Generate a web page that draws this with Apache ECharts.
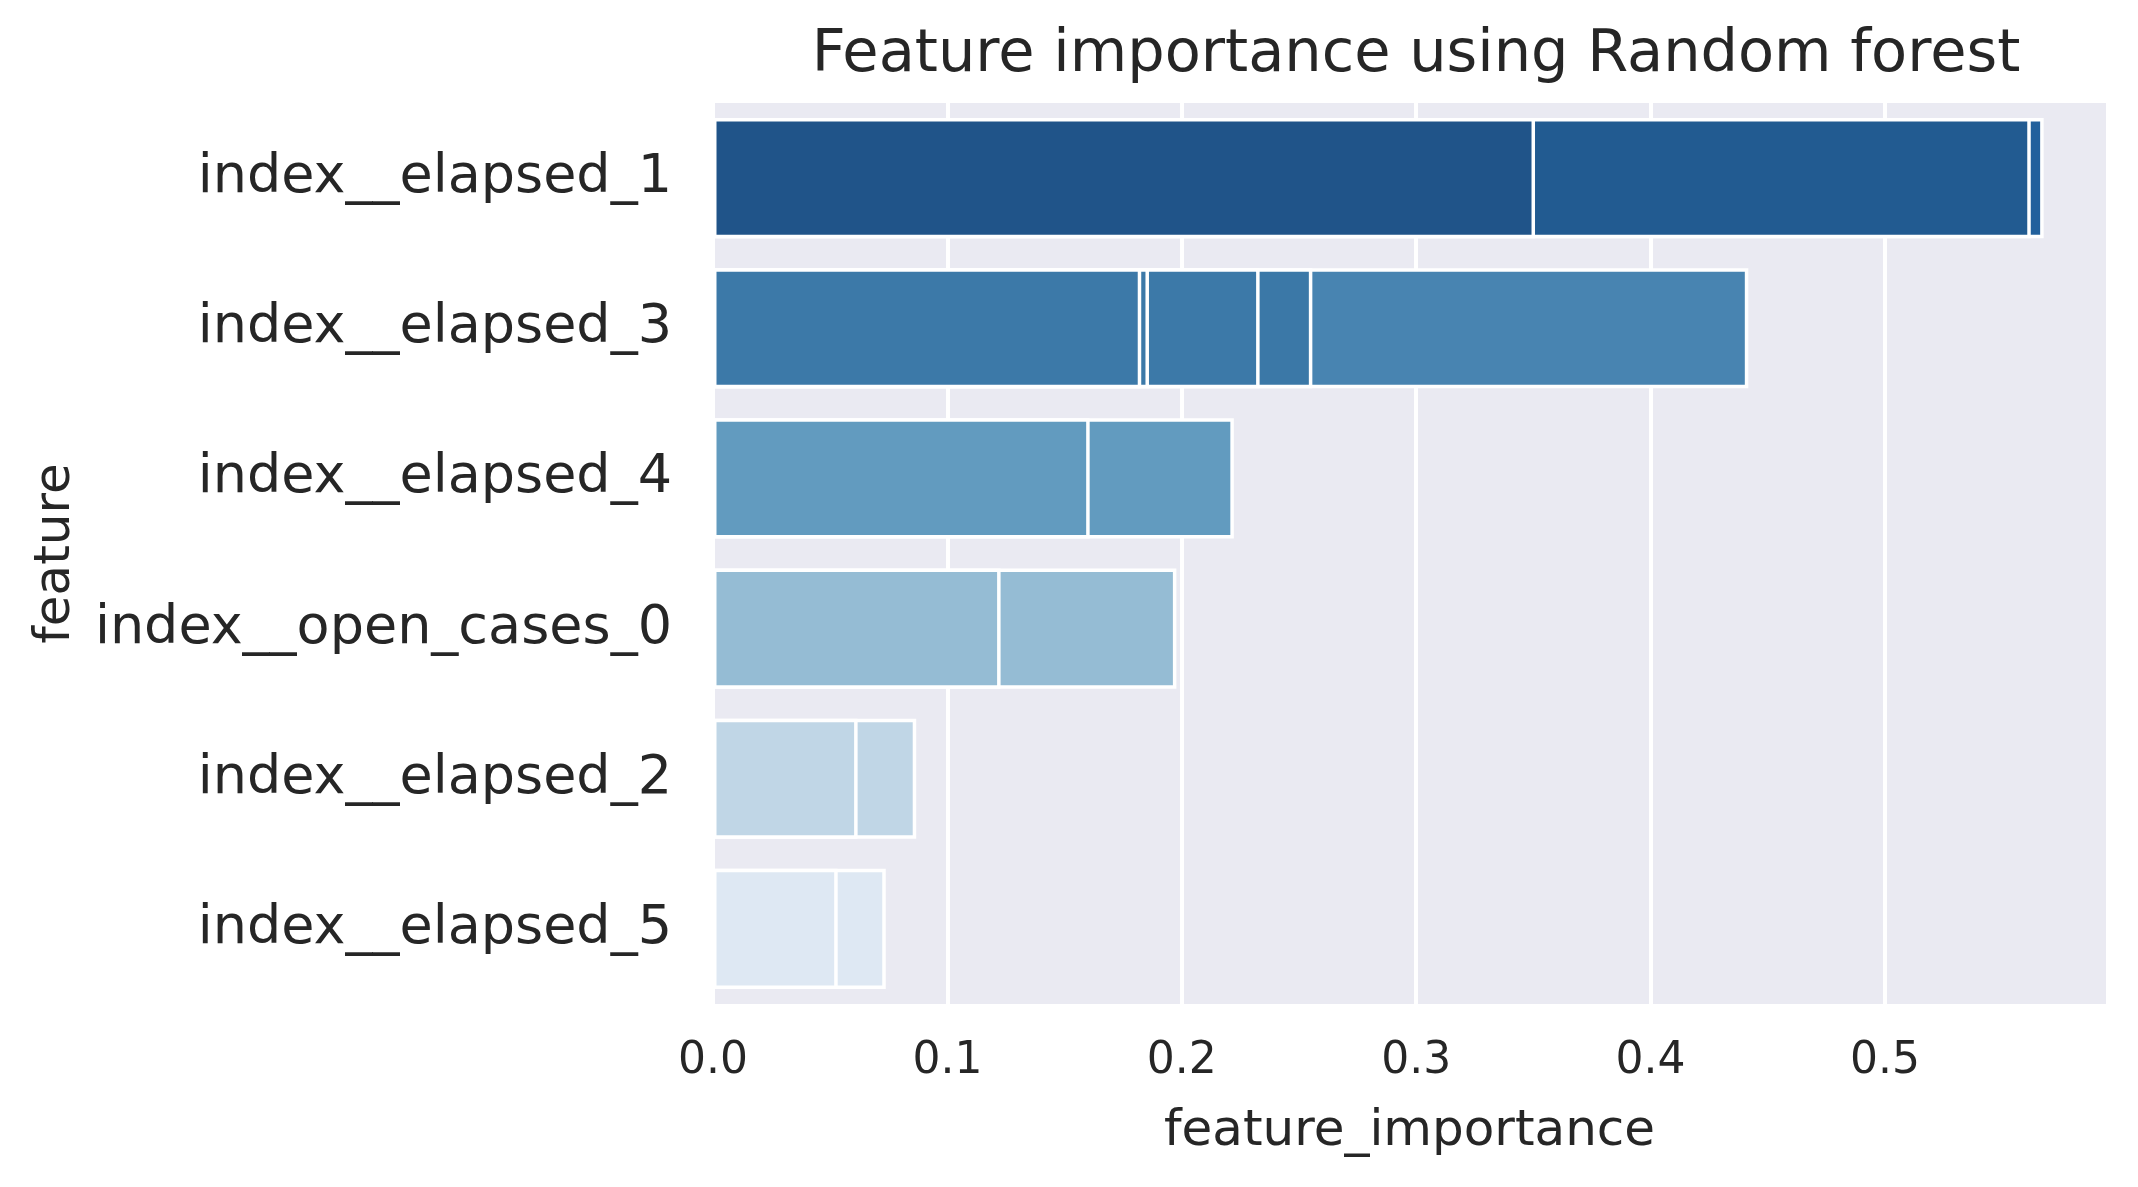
<!DOCTYPE html>
<html>
<head>
    <meta charset="utf-8">
    <title>Feature importance</title>
    <script src="https://cdn.jsdelivr.net/npm/echarts@6/dist/echarts.min.js"></script>
    <style>
        html, body { margin: 0; padding: 0; background: #fff; }
        #main { width: 2138px; height: 1187px; }
    </style>
</head>
<body>
<div id="main"></div>

<script type="text/javascript">
    // features, top to bottom
    var features = ['index__elapsed_1', 'index__elapsed_3', 'index__elapsed_4',
        'index__open_cases_0', 'index__elapsed_2', 'index__elapsed_5'];

    // overlapping bars per feature, back (longest) to front (shortest)
    var layer1 = [0.5677, 0.4417, 0.2222, 0.1977, 0.0867, 0.0737];
    var layer2 = [0.5622, 0.2557, 0.1607, 0.1227, 0.0617, 0.0532];
    var layer3 = [0.3507, 0.2332, null, null, null, null];
    var layer4 = [null, 0.1860, null, null, null, null];
    var layer5 = [null, 0.1827, null, null, null, null];

    var layers = [layer1, layer2, layer3, layer4, layer5];

    // bar colours, same layout as the layers
    var colors = [
        ['#22609c', '#4884b1', '#629bbf', '#95bcd4', '#c0d6e6', '#dee8f3'],
        ['#225b91', '#3b78a7', '#629bbf', '#95bcd4', '#c0d6e6', '#dee8f3'],
        ['#205489', '#3c79a8', null, null, null, null],
        [null, '#3c79a8', null, null, null, null],
        [null, '#3c79a8', null, null, null, null]
    ];

    var font = 'DejaVu Sans';
    var txt = '#262626';

    var series = layers.map(function (vals, k) {
        return {
            type: 'bar',
            barWidth: '80%',
            barGap: '-100%',
            z: 2 + k,
            data: vals.map(function (v, i) {
                return {
                    value: v,
                    itemStyle: { color: colors[k][i] }
                };
            }),
            itemStyle: { borderColor: '#ffffff', borderWidth: 3.5 },
            emphasis: { disabled: true }
        };
    });

    var myChart = echarts.init(document.getElementById('main'));
    myChart.setOption({
        animation: false,
        title: {
            text: 'Feature importance using Random forest',
            left: 1411,
            textAlign: 'center',
            top: 21,
            textStyle: { fontFamily: font, fontSize: 59, fontWeight: 'normal', color: txt }
        },
        grid: {
            left: 713,
            right: 32,
            top: 103,
            bottom: 183,
            show: true,
            backgroundColor: '#eaeaf2',
            borderWidth: 0
        },
        xAxis: {
            type: 'value',
            min: 0,
            max: 0.5943,
            interval: 0.1,
            name: 'feature_importance',
            nameLocation: 'middle',
            nameGap: 103,
            nameTextStyle: { fontFamily: font, fontSize: 50, color: txt },
            axisLine: { show: false },
            axisTick: { show: false },
            axisLabel: {
                fontFamily: font, fontSize: 44, color: txt, margin: 36,
                showMaxLabel: false,
                formatter: function (v) { return v.toFixed(1); }
            },
            splitLine: {
                show: true,
                showMaxLine: false,
                lineStyle: { color: '#ffffff', width: 4 }
            }
        },
        yAxis: {
            type: 'category',
            inverse: true,
            data: features,
            name: 'feature',
            nameLocation: 'middle',
            nameGap: 632,
            nameTextStyle: { fontFamily: font, fontSize: 50, color: txt },
            axisLine: { show: false },
            axisTick: { show: false },
            axisLabel: { fontFamily: font, fontSize: 54, color: txt, margin: 41 },
            splitLine: { show: false }
        },
        series: series
    });
</script>
</body>
</html>
